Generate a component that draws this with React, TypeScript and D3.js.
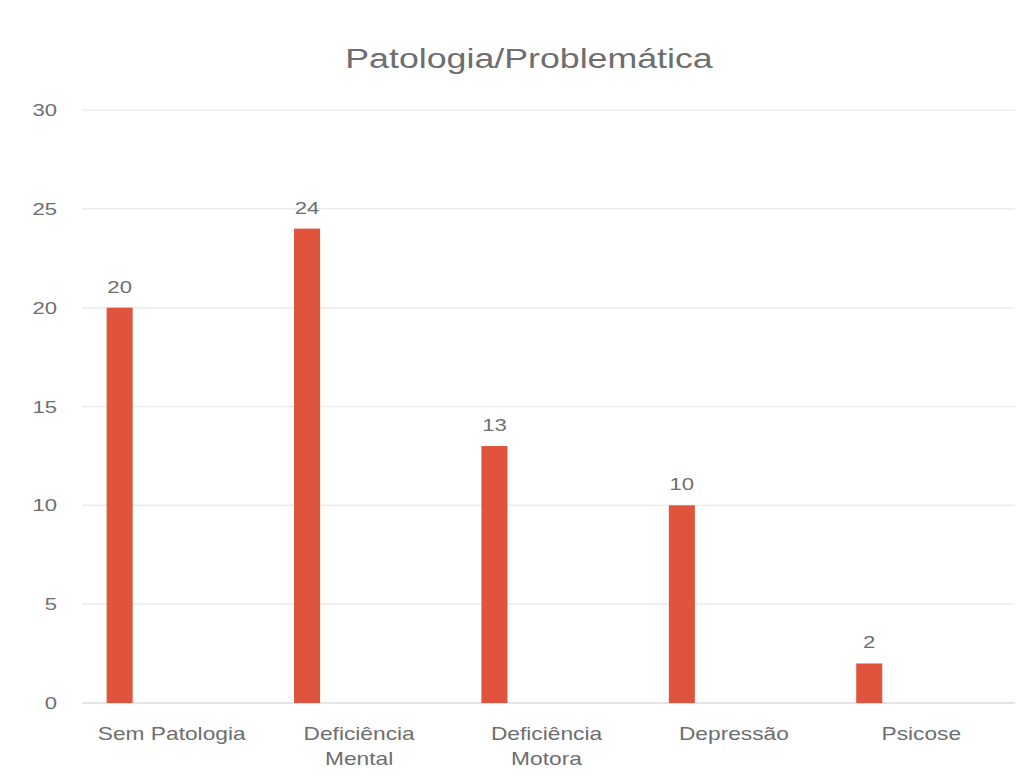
import * as d3 from 'd3';

const title = 'Patologia/Problemática';
const categories = ['Sem Patologia', 'Deficiência Mental', 'Deficiência Motora', 'Depressão', 'Psicose'];
const categoryLines = [['Sem Patologia'], ['Deficiência', 'Mental'], ['Deficiência', 'Motora'], ['Depressão'], ['Psicose']];
const values = [20, 24, 13, 10, 2];
const yTicks = [0, 5, 10, 15, 20, 25, 30];

const width = 1030;
const height = 778;
const plot = { left: 78, right: 1015, top: 110, bottom: 703 };
const stretch = 1.3; // the source picture is squeezed wider than the font
const textColor = '#6e6e6e';

export default function App() {
  const x0 = d3.scaleBand<string>().domain(categories).range([plot.left, plot.right]);
  // bars sit in the first of five cluster slots, as in the source chart
  const x1 = d3.scaleBand<number>().domain(d3.range(5)).range([0, x0.bandwidth()]).paddingOuter(1.1);
  const y = d3.scaleLinear().domain([0, 30]).range([plot.bottom, plot.top]);

  const label = (x: number, yy: number, size: number, text: string, key?: string | number, anchor = 'middle') => (
    <text
      key={key}
      transform={`translate(${x},${yy}) scale(${stretch},1)`}
      textAnchor={anchor}
      fontSize={size}
      fill={textColor}
      fontFamily="'Liberation Sans', Arial, sans-serif"
    >
      {text}
    </text>
  );

  return (
    <svg width={width} height={height} style={{ position: 'absolute', left: 0, top: 0, background: '#fff' }}>
      {label(width / 2 + 14, 68, 27.5, title)}

      {yTicks.map((t) => (
        <g key={t}>
          <line
            x1={plot.left + 4}
            x2={plot.right}
            y1={y(t)}
            y2={y(t)}
            stroke={t === 0 ? '#dcdcdc' : '#ececec'}
            strokeWidth={1.5}
          />
          {label(57, y(t) + 6, 17, String(t), undefined, 'end')}
        </g>
      ))}

      {categories.map((c, i) => {
        const bx = x0(c)! + x1(0)!;
        const bw = x1.bandwidth();
        return (
          <g key={c}>
            <rect x={bx} y={y(values[i])} width={bw} height={y(0) - y(values[i])} fill="#e0533c" />
            {label(bx + bw / 2, y(values[i]) - 15, 17, String(values[i]))}
            {categoryLines[i].map((ln, j) => label(x0(c)! + x0.bandwidth() / 2, 740 + j * 25, 17.5, ln, j))}
          </g>
        );
      })}
    </svg>
  );
}
